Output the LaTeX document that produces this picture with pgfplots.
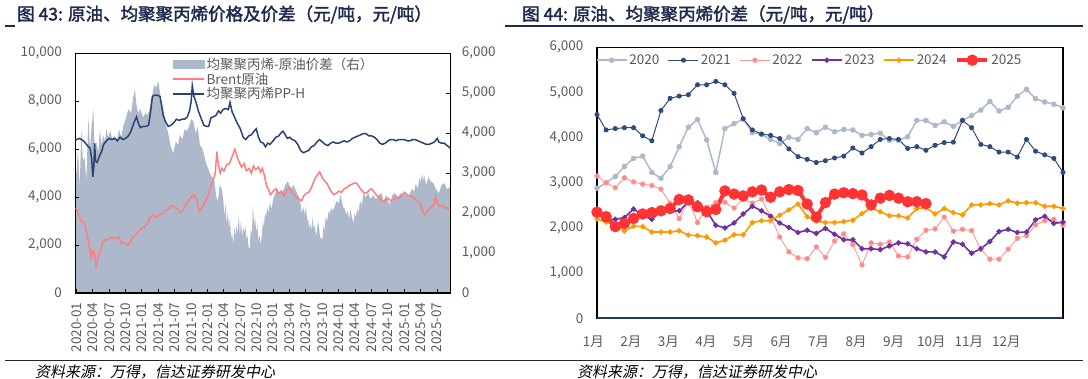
\documentclass[border=0pt]{standalone}
\usepackage{fontspec}
\usepackage{pgfplots}
\usepackage{pgfplotstable}
\pgfplotsset{compat=1.18}
\setmainfont{Noto Sans CJK SC}
\newfontfamily\titlefont[FakeBold=2]{Noto Sans CJK SC}
\newfontfamily\srcfont[FakeSlant=0.2]{Noto Sans CJK SC}
\definecolor{cspread}{RGB}{173,185,202}
\definecolor{cbrent}{RGB}{255,124,128}
\definecolor{cpph}{RGB}{40,66,115}
\definecolor{cgrey}{RGB}{89,89,89}
\definecolor{ctitle}{RGB}{28,40,78}
\definecolor{c2020}{RGB}{173,185,202}
\definecolor{c2021}{RGB}{47,75,124}
\definecolor{c2022}{RGB}{255,150,150}
\definecolor{c2023}{RGB}{112,48,160}
\definecolor{c2024}{RGB}{255,153,0}
\definecolor{c2025}{RGB}{255,51,51}
\definecolor{cnavy}{RGB}{31,56,100}

\pgfplotstableread{
w y2020 y2021 y2022 y2023 y2024 y2025
0 2880 4510 3150 2310 2200 2350
1 3000 4170 3000 2190 2130 2250
2 3140 4200 2890 2190 2090 2030
3 3360 4220 3110 2230 1930 2100
4 3540 4220 3020 2420 2040 2210
5 3590 4040 2970 2280 2030 2310
6 3230 3930 2940 2190 1910 2340
7 3100 4600 2860 2370 1910 2380
8 3360 4870 2550 2370 1910 2430
9 3800 4920 2210 2380 1940 2630
10 4230 4950 2620 2570 1840 2620
11 4400 5170 2120 2560 1830 2470
12 3950 5170 2460 2380 1800 2360
13 3230 5245 2560 2060 1670 2410
14 4200 5170 2570 2000 1730 2820
15 4310 4980 2440 2110 1850 2750
16 4410 4420 2640 2310 1850 2710
17 4110 4170 2550 2480 2120 2800
18 4070 4080 2640 2380 2160 2840
19 3960 4050 2250 2260 2160 2680
20 3870 3980 1800 2110 2280 2800
21 4010 3750 1470 2010 2400 2850
22 3960 3580 1340 1900 2530 2830
23 4200 3520 1320 1950 2250 2530
24 4110 3450 1580 1880 2150 2240
25 4230 3490 1350 1990 2120 2560
26 4130 3550 1710 1860 2120 2750
27 4180 3590 1870 1740 2140 2780
28 4170 3770 1630 1740 2170 2760
29 4050 3660 1180 1540 2320 2730
30 4070 3800 1670 1540 2440 2510
31 4100 3960 1640 1520 2360 2660
32 3940 3980 1690 1600 2270 2720
33 3940 3960 1380 1670 2270 2660
34 4020 3760 1360 1650 2220 2580
35 4380 3800 1750 1540 2430 2580
36 4380 3720 1950 1470 2450 2540
37 4270 3830 1980 1470 2310 nan
38 4350 3890 2240 1360 2430 nan
39 4250 3900 1930 1690 2340 nan
40 4380 4380 1970 1640 2290 nan
41 4490 4220 1940 1440 2510 nan
42 4610 3850 1530 1540 2510 nan
43 4800 3800 1310 1700 2540 nan
44 4590 3680 1310 1920 2510 nan
45 4670 3680 1530 1970 2600 nan
46 4920 3570 1770 1900 2550 nan
47 5070 3960 1830 1910 2560 nan
48 4860 3700 2070 2180 2560 nan
49 4790 3620 2160 2260 2480 nan
50 4740 3540 2190 2100 2480 nan
51 4660 3230 2060 2130 2430 nan
}\seasonal

\pgfplotsset{
  ticklab/.style={font=\fontsize{13.5}{15}\selectfont, text=cgrey},
  /pgf/number format/assume math mode=true,
  /pgf/number format/1000 sep={,},
}

\begin{document}
\begin{tikzpicture}[x=1pt,y=1pt]
\path (0,0) rectangle (1088,379);

% ---------- titles and rules ----------
\node[anchor=west, inner sep=0, text=ctitle, font=\titlefont\fontsize{17.5}{20}\selectfont] at (17,364.5) {图 43: 原油、均聚聚丙烯价格及价差（元/吨，元/吨）};
\node[anchor=west, inner sep=0, text=ctitle, font=\titlefont\fontsize{17.5}{20}\selectfont] at (522,364.5) {图 44: 原油、均聚聚丙烯价差（元/吨，元/吨）};
\draw[line width=1.5pt, cnavy!80!black] (5,353) -- (15,353);
\draw[line width=1.5pt, cnavy!80!black] (505,353) -- (1083,353);
\draw[line width=1pt, black!85] (5,18) -- (1083,18);
\node[anchor=west, inner sep=0, text=black, font=\srcfont\fontsize{15}{17}\selectfont] at (35,7.5) {资料来源：万得，信达证券研发中心};
\node[anchor=west, inner sep=0, text=black, font=\srcfont\fontsize{15}{17}\selectfont] at (577,7.5) {资料来源：万得，信达证券研发中心};

% ---------- left chart: spread area (right axis) ----------
\begin{axis}[at={(75.3pt,86pt)}, anchor=south west, scale only axis,
  width=375pt, height=239.7pt,
  xmin=-0.2, xmax=68.4, ymin=0, ymax=6000,
  axis y line*=right, hide x axis,
  ytick={0,1000,...,6000}, tick align=inside, major tick length=4pt,
  scaled y ticks=false,
  yticklabel style={ticklab, anchor=west, xshift=8pt},
  axis line style={black, line width=1.2pt},
  tick style={black, line width=1pt},
]
\addplot[fill=cspread, draw=none] table {
x y
-0.2 3000
0.0 3000
0.3 3600
0.6 2600
0.9 4100
1.2 3300
1.5 3400
1.8 2800
2.2 4400
2.5 3600
2.8 4200
3.1 4600
3.4 3300
3.7 3800
4.0 3500
4.3 4100
4.6 3700
4.9 3950
5.2 3800
5.5 4100
5.8 3900
6.2 4050
6.6 3850
7.0 3950
7.4 3800
7.8 4100
8.2 3900
8.6 4200
9.0 4350
9.5 4600
10.0 4500
10.4 4900
10.7 5100
11.0 4700
11.3 4500
11.7 4600
12.2 4400
12.6 4500
13.0 4450
13.4 4600
13.8 4900
14.2 5200
14.6 5150
15.0 5300
15.4 4900
15.9 4600
16.4 4200
16.8 4000
17.2 3700
17.7 3500
18.2 3800
18.6 3700
18.9 3950
19.4 3850
19.8 4100
20.2 4050
20.7 4200
21.0 4350
21.4 4300
21.8 4000
22.2 4150
22.6 3700
22.9 3650
23.3 3500
23.6 3300
24.0 3150
24.4 3000
24.8 2900
25.2 2850
25.6 2400
25.9 2300
26.2 2700
26.6 2600
26.9 2300
27.1 1900
27.3 2250
27.5 1700
27.7 2050
27.9 1600
28.1 1900
28.3 1350
28.5 1500
28.7 1200
28.9 1650
29.1 1400
29.3 1700
29.5 1500
29.7 1950
29.9 1450
30.1 1800
30.3 1400
30.5 1650
30.7 1500
30.9 1700
31.1 1350
31.3 1450
31.5 1150
31.7 1100
31.9 1600
32.1 1450
32.3 2200
32.5 1700
32.7 1900
32.9 1500
33.1 1750
33.3 1300
33.5 1450
33.7 1200
33.9 1400
34.1 1800
34.3 1650
34.5 2000
34.7 1900
34.9 2150
35.1 2000
35.4 2250
35.7 2100
36.0 2350
36.4 2500
36.7 2600
37.2 2500
37.8 2550
38.2 2700
38.7 2800
39.2 2600
39.7 2700
40.2 2550
40.7 2400
41.0 2250
41.2 2000
41.5 2150
41.8 1950
42.0 2200
42.2 1800
42.4 1850
42.6 1600
42.8 1750
43.0 1550
43.2 1900
43.4 1600
43.6 1700
43.8 1450
44.0 1550
44.2 1800
44.4 1650
44.6 1350
44.8 1400
45.0 1300
45.2 1700
45.4 1550
45.6 1900
45.9 1800
46.1 2050
46.3 1950
46.6 2150
46.8 2050
47.2 2150
47.6 2300
48.0 2250
48.3 2450
48.5 2350
48.8 2150
49.1 2100
49.4 1950
49.6 2050
49.9 1850
50.1 2100
50.4 1900
50.7 1750
50.9 2000
51.1 1900
51.4 2100
51.6 2000
51.9 2300
52.2 2200
52.5 2500
52.9 2400
53.4 2500
53.8 2350
54.3 2450
54.8 2350
55.3 2450
55.8 2500
56.2 2300
56.7 2450
57.3 2200
57.8 2450
58.3 2500
58.8 2400
59.3 2500
59.8 2450
60.3 2500
60.8 2400
61.3 2600
61.8 2550
62.1 2750
62.4 2600
62.8 2900
63.0 2750
63.2 3000
63.4 2800
63.6 2950
64.0 2700
64.4 2900
64.8 2800
65.3 2750
65.8 2600
66.3 2500
66.8 2700
67.3 2750
67.8 2600
68.4 2650
} \closedcycle;
\end{axis}

% ---------- left chart: lines (left axis) ----------
\begin{axis}[at={(75.3pt,86pt)}, anchor=south west, scale only axis,
  width=375pt, height=239.7pt,
  xmin=-0.2, xmax=68.4, ymin=0, ymax=10000,
  scaled y ticks=false,
  ytick={0,2000,...,10000}, ytick pos=left, xtick pos=bottom,
  xtick={0,3,...,66},
  xticklabels={2020-01,2020-04,2020-07,2020-10,2021-01,2021-04,2021-07,2021-10,2022-01,2022-04,2022-07,2022-10,2023-01,2023-04,2023-07,2023-10,2024-01,2024-04,2024-07,2024-10,2025-01,2025-04,2025-07},
  tick align=inside, major tick length=4pt,
  yticklabel style={ticklab, xshift=-10pt},
  xticklabel style={ticklab, rotate=90, anchor=east, xshift=-6pt},
  axis line style={black, line width=1.2pt},
  tick style={black, line width=1pt},
  legend style={draw=none, fill=none, at={(axis description cs:0.255,0.995)}, anchor=north west,
    font=\fontsize{13.5}{15}\selectfont, text=cgrey, row sep=-2pt, inner sep=1pt},
  legend cell align=left,
  legend image code/.code={\draw[#1] (0pt,0pt) -- (31pt,0pt);},
]
\addlegendimage{legend image code/.code={\fill[cspread] (0pt,-4pt) rectangle (31pt,4pt);}}
\addlegendentry{均聚聚丙烯-原油价差（右）}
\addplot[cbrent, line width=1.5pt] table {
x y
-0.2 3520
0.0 3520
0.5 3200
0.9 3000
1.4 2950
1.8 2600
2.2 2150
2.5 1800
2.7 1450
3.0 1750
3.3 1650
3.6 1100
3.8 1300
4.1 1600
4.4 1750
4.8 2100
5.2 2200
5.8 2250
6.3 2300
6.8 2280
7.3 2300
7.8 2330
8.2 2080
8.6 2100
9.0 2050
9.5 2000
9.8 2100
10.2 2300
10.6 2400
11.0 2450
11.5 2600
12.0 2700
12.5 2750
13.0 2900
13.5 3150
14.0 3250
14.5 3150
15.0 3250
15.5 3300
16.0 3350
16.5 3450
17.0 3550
17.5 3650
18.0 3600
18.5 3500
19.0 3350
19.5 3450
20.0 3700
20.5 3850
21.0 4000
21.5 4100
22.0 3900
22.5 3400
23.0 3550
23.5 3800
24.0 4000
24.5 4400
25.0 4700
25.4 5000
25.7 5900
26.0 5300
26.3 5000
26.6 5200
27.0 5100
27.5 5350
28.0 5400
28.5 5700
29.0 6000
29.3 5750
29.7 5500
30.2 5250
30.7 5400
31.1 5100
31.6 5200
32.0 5000
32.4 5300
32.8 5150
33.3 5250
33.7 5050
34.0 5200
34.4 4900
34.8 4450
35.2 4300
35.5 4100
36.0 4250
36.5 4350
37.0 4150
37.5 4250
38.0 4050
38.5 4300
39.0 4400
39.4 4200
39.8 4100
40.3 4000
40.8 3900
41.2 3850
41.6 4050
42.0 4150
42.5 4200
43.0 4400
43.5 4700
44.0 4900
44.5 5050
45.0 4800
45.5 4650
45.9 4550
46.3 4350
46.7 4200
47.1 4100
47.5 4150
48.0 4250
48.5 4200
49.0 4350
49.5 4400
50.0 4500
50.5 4550
51.0 4600
51.4 4550
51.8 4400
52.3 4250
52.8 4150
53.2 4200
53.6 4300
54.0 4350
54.5 4200
55.0 4050
55.4 4000
55.8 3850
56.2 3800
56.6 3900
57.0 3950
57.5 3850
58.0 3900
58.5 4000
59.0 3950
59.5 4050
60.0 4200
60.5 4100
61.0 4050
61.5 4000
62.0 3900
62.5 3800
63.0 3700
63.4 3350
63.8 3250
64.2 3450
64.6 3500
65.0 3600
65.4 3700
65.7 4000
66.0 3750
66.5 3600
67.0 3650
67.5 3550
68.0 3550
68.4 3500
};
\addlegendentry{Brent原油}
\addplot[cpph, line width=1.5pt] table {
x y
-0.2 6390
0.0 6390
0.5 6450
1.0 6400
1.5 6300
2.0 6150
2.5 6040
2.8 5600
3.0 4850
3.2 5300
3.35 6250
3.5 5500
3.8 5450
4.2 5700
4.6 5900
5.0 6200
5.5 6350
6.0 6450
6.5 6400
7.0 6450
7.5 6350
8.0 6500
8.5 6400
9.0 6450
9.5 6550
10.0 6750
10.5 7100
11.0 7350
11.3 7100
11.7 6900
12.2 6950
12.7 6950
13.2 7000
13.6 7600
13.9 8200
14.3 8250
14.8 8250
15.3 8200
15.6 7800
15.9 7400
16.3 7150
16.8 6950
17.3 7000
17.8 7100
18.3 7250
18.8 7200
19.3 7250
19.8 7250
20.3 7350
20.7 7600
21.0 8000
21.2 8650
21.5 8200
21.9 7950
22.3 7600
22.8 7300
23.3 7000
23.8 6950
24.2 6950
24.6 7300
25.0 7350
25.5 7400
26.0 7600
26.4 7500
26.8 7650
27.3 7700
27.8 7650
28.1 7950
28.5 7550
29.0 7300
29.5 7050
30.0 6850
30.5 6500
31.0 6400
31.5 6550
32.0 6600
32.5 6750
32.9 6850
33.3 6500
33.7 6300
34.2 6250
34.6 6100
35.0 6250
35.4 6200
36.0 6350
36.5 6500
37.0 6550
37.5 6700
37.8 6750
38.2 6600
38.6 6450
39.0 6500
39.5 6400
40.0 6350
40.5 6200
41.0 5950
41.5 5850
42.0 5900
42.5 5950
43.0 6100
43.5 6150
44.0 6300
44.5 6400
45.0 6300
45.5 6200
46.0 6150
46.5 6250
47.0 6300
47.5 6250
48.0 6250
48.5 6300
49.0 6350
49.5 6300
50.0 6350
50.5 6450
51.0 6500
51.5 6550
52.0 6600
52.5 6650
53.0 6650
53.5 6550
54.0 6550
54.5 6500
55.0 6400
55.5 6250
56.0 6200
56.5 6250
57.0 6350
57.5 6400
58.0 6400
58.5 6350
59.0 6400
59.5 6400
60.0 6400
60.5 6350
61.0 6350
61.5 6400
62.0 6400
62.5 6350
63.0 6300
63.5 6250
64.0 6200
64.5 6200
65.0 6250
65.5 6300
66.0 6450
66.3 6300
66.8 6250
67.3 6250
67.8 6150
68.4 6050
};
\addlegendentry{均聚聚丙烯PP-H}
\end{axis}

% ---------- right chart ----------
\begin{axis}[at={(597pt,60.7pt)}, anchor=south west, scale only axis,
  width=466pt, height=271pt,
  xmin=0, xmax=51, ymin=0, ymax=6000,
  scaled y ticks=false,
  ytick={0,1000,...,6000},
  xtick={0,4.11,8.22,12.33,16.44,20.55,24.66,28.77,32.88,36.99,41.1,45.21},
  xticklabels={1月,2月,3月,4月,5月,6月,7月,8月,9月,10月,11月,12月},
  major tick length=0pt,
  yticklabel style={ticklab, xshift=-10pt},
  xticklabel style={ticklab, xshift=-3.7pt, yshift=-14pt},
  axis line style={black, line width=1.2pt},
  clip=false,
  legend columns=6,
  legend style={draw=none, fill=none, at={(axis description cs:-0.005,0.985)}, anchor=north west,
    font=\fontsize{13.5}{15}\selectfont, text=cgrey, inner sep=1pt,
    /tikz/every even column/.append style={column sep=6.6pt}},
  legend image code/.code={\draw[#1, mark repeat=2, mark phase=2] plot coordinates {(0pt,0pt) (15pt,0pt) (30pt,0pt)};},
]
\addplot[c2020, line width=1.5pt, mark=*, mark size=2pt] table[x=w, y=y2020] {\seasonal};
\addlegendentry{2020}
\addplot[c2021, line width=1pt, mark=*, mark size=2pt] table[x=w, y=y2021] {\seasonal};
\addlegendentry{2021}
\addplot[c2022, line width=0.9pt, mark=*, mark size=2.2pt, mark options={fill=c2022!90!red}] table[x=w, y=y2022] {\seasonal};
\addlegendentry{2022}
\addplot[c2023, line width=1.6pt, mark=*, mark size=1.8pt] table[x=w, y=y2023] {\seasonal};
\addlegendentry{2023}
\addplot[c2024, line width=1.6pt, mark=*, mark size=1.8pt] table[x=w, y=y2024] {\seasonal};
\addlegendentry{2024}
\addplot[c2025, line width=4pt, mark=*, mark size=3.6pt] table[x=w, y=y2025] {\seasonal};
\addlegendentry{2025}
\draw[cnavy, line width=1.6pt] (rel axis cs:0,0) -- (rel axis cs:1,0);
\end{axis}
\end{tikzpicture}
\end{document}
